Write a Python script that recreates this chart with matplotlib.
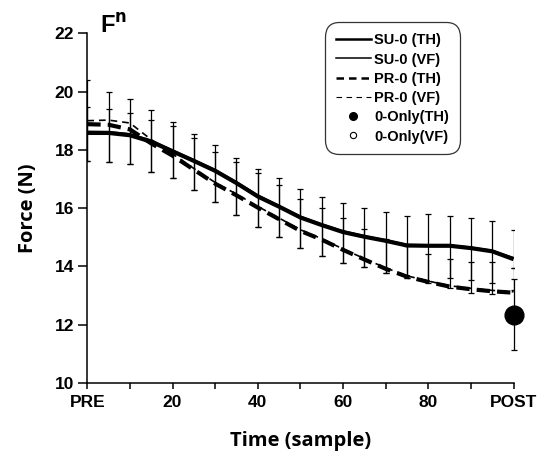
import numpy as np
import matplotlib.pyplot as plt
from matplotlib.lines import Line2D

# sample positions (PRE = 0, POST = 100)
sample = [0, 5, 10, 15, 20, 25, 30, 35, 40, 45, 50, 55, 60, 65, 70, 75, 80, 85, 90, 95, 100]

su_th = [18.58, 18.58, 18.50, 18.28, 17.95, 17.62, 17.28, 16.86, 16.40, 16.05, 15.68,
         15.42, 15.18, 15.02, 14.88, 14.72, 14.71, 14.71, 14.63, 14.52, 14.25]
su_vf = [18.63, 18.62, 18.55, 18.33, 17.99, 17.66, 17.32, 16.90, 16.45, 16.09, 15.72,
         15.45, 15.22, 15.05, 14.91, 14.75, 14.74, 14.73, 14.66, 14.55, 14.30]
pr_th = [18.88, 18.86, 18.70, 18.22, 17.80, 17.32, 16.84, 16.44, 16.02, 15.62, 15.22,
         14.92, 14.57, 14.24, 13.92, 13.65, 13.47, 13.31, 13.22, 13.15, 13.10]
pr_vf = [19.00, 19.02, 18.92, 18.35, 17.86, 17.36, 16.88, 16.48, 16.06, 15.66, 15.26,
         14.95, 14.60, 14.27, 13.95, 13.68, 13.50, 13.34, 13.25, 13.18, 13.13]

# error bar ends
su_top = [20.39, 19.97, 19.73, 19.36, 18.96, 18.55, 18.18, 17.72, 17.34, 17.04, 16.65,
          16.37, 16.16, 16.02, 15.87, 15.72, 15.79, 15.74, 15.67, 15.55, 15.25]
su_bottom = [17.62, 17.59, 17.50, 17.25, 17.02, 16.64, 16.22, 15.78, 15.36, 15.02, 14.64,
             14.37, 14.12, 13.97, 13.79, 13.62, 13.51, 13.59, 13.53, 13.44, 13.95]
pr_top = [19.47, 19.39, 19.28, 19.04, 18.82, 18.40, 17.93, 17.59, 17.19, 16.80, 16.31,
          16.02, 15.65, 15.28, 14.95, 14.70, 14.42, 14.27, 14.16, 14.14, 13.95]
pr_bottom = [17.62, 17.59, 17.50, 17.25, 17.02, 16.64, 16.22, 15.78, 15.36, 15.02, 14.64,
             14.37, 14.12, 13.97, 13.79, 13.62, 13.45, 13.25, 13.08, 13.07, 13.19]

# 0-Only condition, POST only
only_x = 100
only_th = 12.34
only_th_sd = 1.22
only_vf = 12.30

xticks = [0, 20, 40, 60, 80, 100]
xticklabels = ['PRE', '20', '40', '60', '80', 'POST']
yticks = [10, 12, 14, 16, 18, 20, 22]

plt.rcParams['font.family'] = ['Liberation Sans', 'DejaVu Sans']
plt.rcParams['font.weight'] = 'bold'

fig = plt.figure(figsize=(5.4, 4.55), dpi=100)
ax = fig.add_axes([0.1617, 0.158, 0.7893, 0.769])

x = np.array(sample)


def span_bars(top, bottom):
    # a bar from bottom to top with a cap at each end
    top, bottom = np.array(top), np.array(bottom)
    mid = (top + bottom) / 2
    ax.errorbar(x, mid, yerr=(top - bottom) / 2, fmt='none', ecolor='black',
                elinewidth=0.9, capsize=2.2, capthick=0.9, zorder=2)


span_bars(su_top, pr_bottom)
span_bars(pr_top, su_bottom)

ax.plot(x, su_th, color='black', lw=3.0, solid_capstyle='butt', zorder=3)
ax.plot(x, su_vf, color='black', lw=1.2, zorder=3)
ax.plot(x, pr_th, color='black', lw=3.0, dashes=(3.2, 1.7), zorder=3)
ax.plot(x, pr_vf, color='black', lw=1.2, dashes=(4, 3), zorder=3)

ax.errorbar([only_x], [only_th], yerr=[[only_th_sd], [only_th_sd]], fmt='none',
            ecolor='black', elinewidth=0.9, capsize=2.2, capthick=0.9, zorder=2, clip_on=False)
ax.plot([only_x], [only_vf], 'o', mfc='white', mec='black', ms=8, clip_on=False, zorder=4)
ax.plot([only_x], [only_th], 'o', color='black', ms=13.5, clip_on=False, zorder=5)

ax.set_xlim(0, 100)
ax.set_ylim(10, 22)
ax.set_xticks(xticks)
ax.set_xticklabels(xticklabels)
ax.set_xticks([10, 30, 50, 70, 90], minor=True)
ax.set_yticks(yticks)
ax.tick_params(axis='both', which='both', direction='out', width=1.1, labelsize=12.5)
ax.tick_params(axis='x', which='both', length=4.5, pad=4)
ax.tick_params(axis='y', length=6.5, pad=3)
for s in ['top', 'right']:
    ax.spines[s].set_visible(False)
for s in ['left', 'bottom']:
    ax.spines[s].set_linewidth(1.1)

ax.set_xlabel('Time (sample)', fontfamily='Open Sans', fontweight='bold', fontsize=14.5, labelpad=15)
ax.set_ylabel('Force (N)', fontfamily='Open Sans', fontweight='bold', fontsize=14.5, labelpad=12)

fig.text(0.185, 0.929, r'F$^{\mathbf{n}}$', fontsize=17, fontweight='bold')

handles = [
    Line2D([], [], color='black', lw=1.8),
    Line2D([], [], color='black', lw=1.1),
    Line2D([], [], color='black', lw=1.8, dashes=(3, 2)),
    Line2D([], [], color='black', lw=0.8, dashes=(5, 4)),
    Line2D([], [], color='black', marker='o', ls='none', ms=5.5),
    Line2D([], [], mfc='white', mec='black', marker='o', ls='none', ms=4.5, mew=0.8),
]
labels = ['SU-0 (TH)', 'SU-0 (VF)', 'PR-0 (TH)', 'PR-0 (VF)', '0-Only(TH)', '0-Only(VF)']
leg = ax.legend(handles, labels, loc='upper right', bbox_to_anchor=(0.875, 1.031),
                prop={'weight': 'bold', 'size': 10.5}, frameon=True,
                handlelength=2.4, handletextpad=0.25, labelspacing=0.36,
                borderpad=0.75, borderaxespad=0)
frame = leg.get_frame()
frame.set_edgecolor('black')
frame.set_linewidth(0.9)
frame.set_boxstyle('round,pad=0,rounding_size=1.0')

fig.savefig('out.png', dpi=100)
